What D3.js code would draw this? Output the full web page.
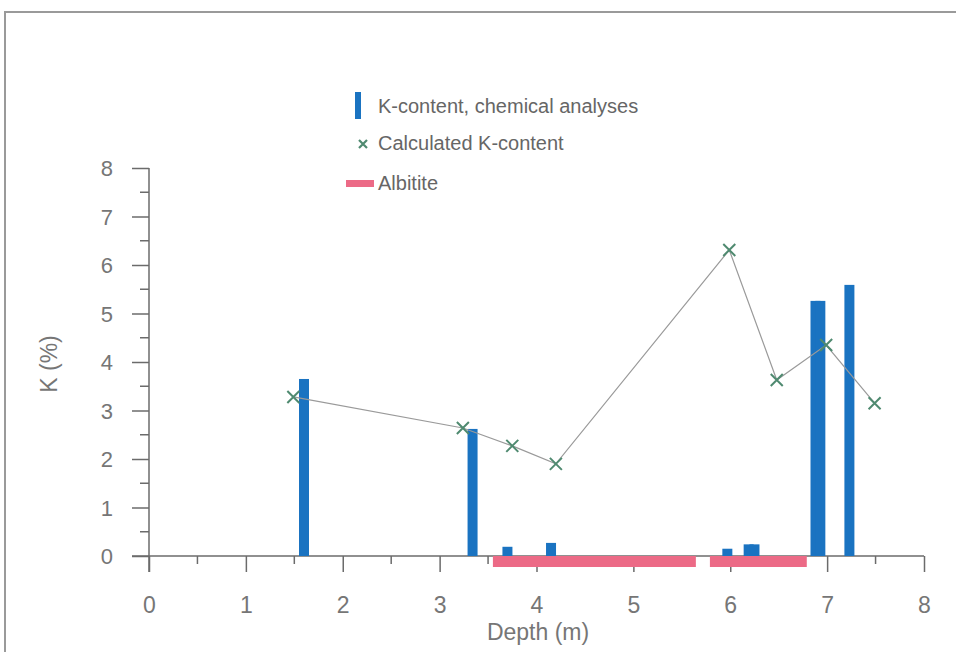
<!DOCTYPE html>
<html>
<head>
<meta charset="utf-8">
<script src="https://cdn.jsdelivr.net/npm/d3@7"></script>
<style>
  html, body { margin: 0; padding: 0; background: #fff; }
  svg { display: block; font-family: "Liberation Sans", Arial, sans-serif; }
</style>
</head>
<body>
<svg id="chart" width="956" height="652"></svg>
<script>
// Chemical analyses: depth (m) and K (%)
const sampleDepths = [1.6, 3.34, 3.70, 4.15, 5.97, 6.19, 6.25, 6.88, 6.93, 7.23];
const sampleK      = [3.65, 2.62, 0.19, 0.27, 0.15, 0.24, 0.24, 5.26, 5.26, 5.59];

// Calculated K-content along the profile
const calcDepths = [1.49, 3.24, 3.75, 4.20, 5.99, 6.48, 6.99, 7.49];
const calcK      = [3.28, 2.64, 2.27, 1.90, 6.31, 3.63, 4.35, 3.15];

// Albitite intervals (from, to) in metres
const albititeFrom = [3.55, 5.79];
const albititeTo   = [5.645, 6.79];

const xTicks = [0, 1, 2, 3, 4, 5, 6, 7, 8];
const yTicks = [0, 1, 2, 3, 4, 5, 6, 7, 8];

const legendLabels = ["K-content, chemical analyses", "Calculated K-content", "Albitite"];

const svg = d3.select("#chart");
const axisColor = "#6b6b6b";
const textColor = "#767676";
const blue = "#1a73c1";
const pink = "#ec6a86";
const crossColor = "#4f8a70";

// outer frame
svg.append("path")
  .attr("d", "M5,660 L5,12 L960,12")
  .attr("fill", "none").attr("stroke", "#9a9a9a").attr("stroke-width", 2);

const x = d3.scaleLinear().domain([0, 8]).range([149, 924]);
const y = d3.scaleLinear().domain([0, 8]).range([556, 168]);

const barW = 10;

// y axis
const yAxis = d3.axisLeft(y).tickValues(yTicks).tickSize(17).tickFormat(d3.format("d"));
const gy = svg.append("g").attr("transform", `translate(${x(0)},0)`).call(yAxis);
gy.select(".domain").remove();
gy.selectAll(".tick line").attr("stroke", axisColor).attr("stroke-width", 1.5);
gy.selectAll(".tick text").attr("fill", textColor).style("font-size", "22px")
  .attr("x", -36).attr("dy", "0.36em");
const yMinor = d3.range(0.5, 8, 1);
svg.append("g").selectAll("line").data(yMinor).join("line")
  .attr("x1", x(0) - 9).attr("x2", x(0))
  .attr("y1", d => y(d)).attr("y2", d => y(d))
  .attr("stroke", axisColor).attr("stroke-width", 1.5);
svg.append("line")
  .attr("x1", x(0)).attr("x2", x(0))
  .attr("y1", y(8)).attr("y2", y(0) + 16)
  .attr("stroke", axisColor).attr("stroke-width", 1.5);

// x axis
const xAxis = d3.axisBottom(x).tickValues(xTicks).tickSize(16).tickFormat(d3.format("d"));
const gx = svg.append("g").attr("transform", `translate(0,${y(0)})`).call(xAxis);
gx.select(".domain").remove();
gx.selectAll(".tick line").attr("stroke", axisColor).attr("stroke-width", 1.5);
gx.selectAll(".tick text").attr("fill", textColor).style("font-size", "23px")
  .attr("y", 57).attr("dy", null);
const xMinor = d3.range(0.5, 8, 1);
svg.append("g").selectAll("line").data(xMinor).join("line")
  .attr("x1", d => x(d)).attr("x2", d => x(d))
  .attr("y1", y(0)).attr("y2", y(0) + 8)
  .attr("stroke", axisColor).attr("stroke-width", 1.5);
svg.append("line")
  .attr("x1", x(0) - 17).attr("x2", x(8))
  .attr("y1", y(0)).attr("y2", y(0))
  .attr("stroke", axisColor).attr("stroke-width", 1.5);

// axis titles
svg.append("text").attr("x", 538).attr("y", 640).attr("text-anchor", "middle")
  .attr("fill", textColor).style("font-size", "23px").text("Depth (m)");
svg.append("text").attr("transform", "translate(57,364) rotate(-90)").attr("text-anchor", "middle")
  .attr("fill", textColor).style("font-size", "23px").text("K (%)");

// albitite intervals below the axis
svg.append("g").selectAll("rect").data(albititeFrom).join("rect")
  .attr("x", (d, i) => x(d))
  .attr("width", (d, i) => x(albititeTo[i]) - x(d))
  .attr("y", y(0)).attr("height", 11)
  .attr("fill", pink);

// chemical analyses bars
svg.append("g").selectAll("rect").data(sampleDepths).join("rect")
  .attr("x", d => x(d) - barW / 2).attr("width", barW)
  .attr("y", (d, i) => y(sampleK[i]))
  .attr("height", (d, i) => y(0) - y(sampleK[i]))
  .attr("fill", blue);

// calculated line and crosses
const calc = calcDepths.map((d, i) => [d, calcK[i]]);
svg.append("path").datum(calc)
  .attr("d", d3.line().x(d => x(d[0])).y(d => y(d[1])))
  .attr("fill", "none").attr("stroke", "#9a9a9a").attr("stroke-width", 1.2);
const cs = 6;
svg.append("g").selectAll("path").data(calc).join("path")
  .attr("d", d => `M${x(d[0]) - cs},${y(d[1]) - cs}L${x(d[0]) + cs},${y(d[1]) + cs}M${x(d[0]) - cs},${y(d[1]) + cs}L${x(d[0]) + cs},${y(d[1]) - cs}`)
  .attr("stroke", crossColor).attr("stroke-width", 2).attr("fill", "none");

// legend
const lg = svg.append("g");
lg.append("rect").attr("x", 355).attr("y", 92).attr("width", 6).attr("height", 27).attr("fill", blue);
lg.append("path")
  .attr("d", "M359,140L367,148M359,148L367,140")
  .attr("stroke", crossColor).attr("stroke-width", 2.2);
lg.append("rect").attr("x", 346).attr("y", 180).attr("width", 28).attr("height", 7).attr("fill", pink);
lg.selectAll("text").data(legendLabels).join("text")
  .attr("x", 378).attr("y", (d, i) => [113, 150, 190][i])
  .attr("fill", "#666").style("font-size", "20px").text(d => d);
</script>
</body>
</html>
